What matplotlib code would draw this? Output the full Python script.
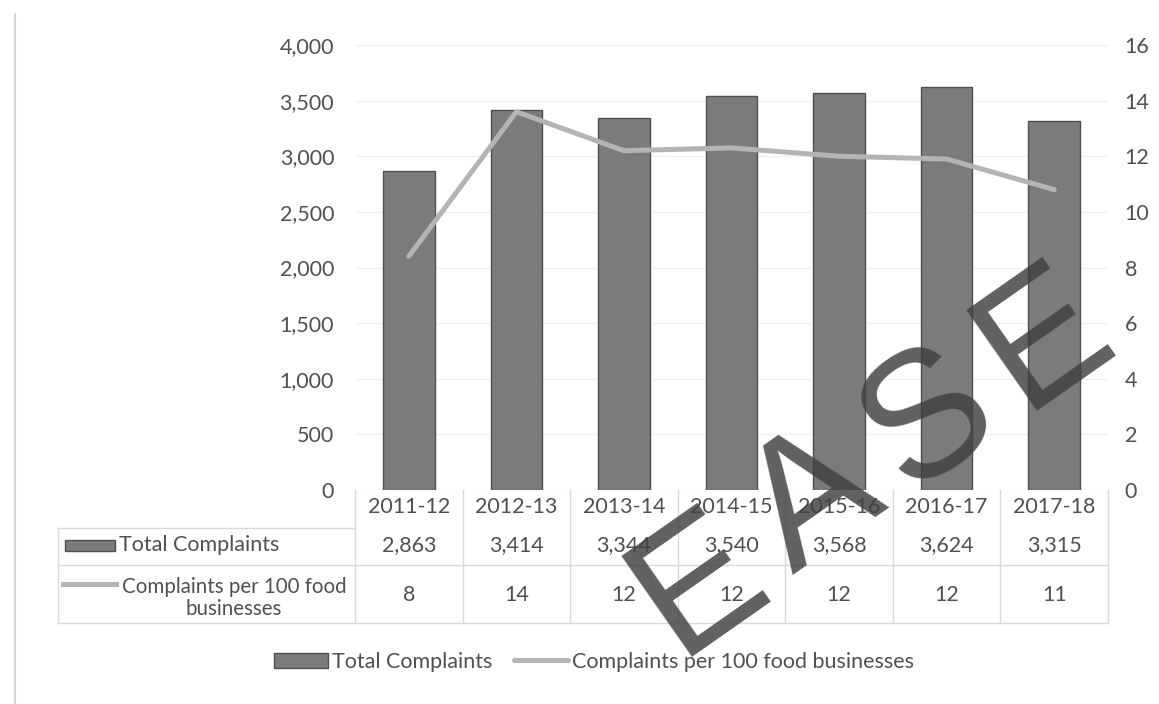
import matplotlib
matplotlib.use('Agg')
import matplotlib.pyplot as plt
import matplotlib.transforms as mtransforms
from matplotlib.lines import Line2D
from matplotlib.patches import Rectangle

# Complaints data by financial year
years = ['2011-12', '2012-13', '2013-14', '2014-15', '2015-16', '2016-17', '2017-18']
total_complaints = [2863, 3414, 3344, 3540, 3568, 3624, 3315]
per_100_businesses = [8.4, 13.6, 12.2, 12.3, 12.0, 11.9, 10.8]

bar_label = 'Total Complaints'
line_label = 'Complaints per 100 food businesses'

TEXT = '#505050'
BAR = '#7b7b7b'
BAR_EDGE = '#4f4f4f'
LINE = '#b4b4b4'
GRID = '#d9d9d9'
FS = 15.5

plt.rcParams['font.family'] = ['Lato', 'DejaVu Sans']
plt.rcParams['font.size'] = FS

W, H = 1159, 704
fig = plt.figure(figsize=(W / 100, H / 100), dpi=100)
fig.patch.set_facecolor('white')


def fx(px):
    return px / W


def fy(py):
    return 1 - py / H


ax = fig.add_axes([fx(355), fy(490), fx(1108) - fx(355), fy(45) - fy(490)])
ax2 = ax.twinx()

x = list(range(len(years)))
bars = ax.bar(x, total_complaints, width=0.48, color=BAR, edgecolor=BAR_EDGE,
              linewidth=1, label=bar_label, zorder=2)
line, = ax2.plot(x, per_100_businesses, color=LINE, linewidth=3.6,
                 solid_capstyle='round', solid_joinstyle='round', label=line_label)

ax.set_xlim(-0.5, len(years) - 0.5)
ax.set_ylim(0, 4000)
ax.set_yticks(range(0, 4001, 500))
ax.set_yticklabels([f'{v:,}' for v in range(0, 4001, 500)])
ax2.set_ylim(0, 16)
ax2.set_yticks(range(0, 17, 2))
ax.set_xticks([])
ax.yaxis.grid(True, color='#f0f0f0', linewidth=1)
ax.set_axisbelow(True)

for a in (ax, ax2):
    for s in a.spines.values():
        s.set_visible(False)
    a.tick_params(length=0, colors=TEXT, labelsize=FS)
ax.tick_params(axis='y', pad=15)
ax2.tick_params(axis='y', pad=12)

# data table under the plot
trans = mtransforms.blended_transform_factory(ax.transData, fig.transFigure)
for i, yr in enumerate(years):
    ax.text(i, fy(507), yr, transform=trans, ha='center', va='center', color=TEXT)
    ax.text(i, fy(545), f'{total_complaints[i]:,}', transform=trans, ha='center', va='center',
            color=TEXT)
    ax.text(i, fy(595), f'{round(per_100_businesses[i])}', transform=trans, ha='center',
            va='center', color=TEXT)

for i in range(len(years) + 1):
    ax.add_artist(Line2D([i - 0.5, i - 0.5], [fy(490), fy(623)], transform=trans,
                         color=GRID, linewidth=1, clip_on=False))


def hline(x0, x1, py):
    fig.add_artist(Line2D([fx(x0), fx(x1)], [fy(py), fy(py)], color=GRID, linewidth=1))


hline(58, 1108, 623)
hline(58, 355, 528)
hline(58, 1108, 565)
fig.add_artist(Line2D([fx(58), fx(58)], [fy(528), fy(623)], color=GRID, linewidth=1))

# row labels with their series keys
fig.add_artist(Rectangle((fx(65), fy(551)), fx(115) - fx(65), fy(540) - fy(551),
                         facecolor=BAR, edgecolor=BAR_EDGE, linewidth=1))
fig.text(fx(119), fy(545), bar_label, ha='left', va='center', color=TEXT)
fig.add_artist(Line2D([fx(63), fx(116)], [fy(584), fy(584)], color=LINE, linewidth=3.6))
fig.text(fx(234), fy(598), 'Complaints per 100 food\nbusinesses', ha='center', va='center',
         multialignment='center', color=TEXT, linespacing=1.15, fontsize=14.8)

# legend
fig.legend([bars, line], [bar_label, line_label], loc='center', bbox_to_anchor=(fx(594), fy(662)),
           ncol=2, frameon=False, handlelength=2.5, handletextpad=0.2, columnspacing=1.0,
           labelcolor=TEXT, fontsize=FS)

# frame edge on the left
fig.add_artist(Line2D([fx(15), fx(15)], [fy(14), 0], color='#d4d4d4', linewidth=1.5))

# watermark, one letter at a time along a slanted baseline
mark = 'EASE'
x0, y0 = 700, 585
step_x, step_y = 115, -82
for k, ch in enumerate(mark):
    fig.text(fx(x0 + k * step_x), fy(y0 + k * step_y), ch, ha='center', va='center',
             rotation=35, rotation_mode='anchor', fontsize=128, color='#404040', alpha=0.83,
             family='Liberation Sans', zorder=10)

fig.savefig('out.png', dpi=100, facecolor='white')
